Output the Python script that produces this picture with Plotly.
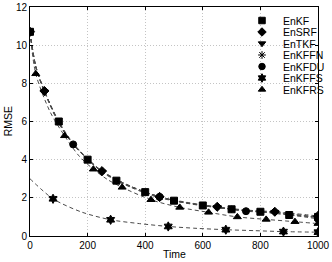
import plotly.graph_objects as go

# ---------------- data ----------------
names = ["EnKF", "EnSRF", "EnTKF", "EnKFFN", "EnKFDU", "EnKFFS", "EnKFRS"]
symbols = ["square", "diamond", "triangle-down", "asterisk-open", "circle", "hexagram", "triangle-up"]

enkf_t = [0, 20, 50, 100, 150, 200, 250, 300, 400, 500, 600, 700, 800, 900, 1000]
enkf_v = [10.7, 8.9, 7.6, 6.0, 4.85, 4.0, 3.4, 2.9, 2.3, 1.85, 1.6, 1.4, 1.27, 1.1, 1.0]
enkf_mk = [0, 100, 200, 300, 400, 500, 600, 700, 800, 900, 1000]

ensrf_t = [0, 20, 50, 100, 150, 250, 350, 450, 550, 650, 750, 850, 1000]
ensrf_v = [10.7, 8.9, 7.6, 5.95, 4.85, 3.4, 2.6, 2.05, 1.75, 1.53, 1.36, 1.27, 1.05]
ensrf_mk = [0, 50, 250, 450, 650, 850, 1000]

entkf_t = [0, 20, 50, 100, 150, 250, 350, 450, 550, 650, 750, 850, 1000]
entkf_v = [10.7, 8.85, 7.55, 5.9, 4.8, 3.35, 2.55, 2.0, 1.72, 1.5, 1.33, 1.25, 0.95]
entkf_mk = [0, 50, 250, 450, 650, 850, 1000]

enkffn_t = [0, 20, 50, 100, 150, 250, 350, 450, 550, 700, 850, 1000]
enkffn_v = [10.7, 8.85, 7.6, 5.95, 4.8, 3.4, 2.6, 2.05, 1.7, 1.4, 1.22, 1.0]
enkffn_mk = [0, 450, 700, 1000]

enkfdu_t = [0, 20, 50, 100, 150, 250, 350, 450, 550, 650, 750, 850, 1000]
enkfdu_v = [10.7, 8.9, 7.6, 5.95, 4.8, 3.4, 2.6, 2.05, 1.72, 1.5, 1.3, 1.2, 0.9]
enkfdu_mk = [0, 150, 450, 750, 1000]

enkffs_t = [0, 80, 180, 280, 380, 480, 580, 680, 780, 880, 1000]
enkffs_v = [3.0, 1.95, 1.25, 0.85, 0.65, 0.5, 0.4, 0.33, 0.28, 0.23, 0.2]
enkffs_mk = [80, 280, 480, 680, 880, 1000]

enkfrs_t = [0, 20, 70, 120, 170, 220, 270, 320, 420, 520, 620, 720, 820, 920, 1000]
enkfrs_v = [10.7, 8.5, 6.5, 5.25, 4.2, 3.5, 2.95, 2.55, 1.9, 1.5, 1.24, 1.0, 0.87, 0.75, 0.65]
enkfrs_mk = [20, 120, 220, 320, 420, 520, 620, 720, 820, 920, 1000]

series = [
    (enkf_t, enkf_v, enkf_mk),
    (ensrf_t, ensrf_v, ensrf_mk),
    (entkf_t, entkf_v, entkf_mk),
    (enkffn_t, enkffn_v, enkffn_mk),
    (enkfdu_t, enkfdu_v, enkfdu_mk),
    (enkffs_t, enkffs_v, enkffs_mk),
    (enkfrs_t, enkfrs_v, enkfrs_mk),
]

x_ticks = [0, 200, 400, 600, 800, 1000]
y_ticks = [0, 2, 4, 6, 8, 10, 12]

FONT = "Liberation Sans, Arial, Helvetica, sans-serif"

fig = go.Figure()

# dashed curves
for (t, v, mk) in series:
    fig.add_trace(go.Scatter(x=t, y=v, mode="lines", showlegend=False, hoverinfo="skip",
                             line=dict(color="#4a4a4a", width=1, dash="4px,3px", shape="spline", smoothing=0.8)))

# markers
for name, sym, (t, v, mk) in zip(names, symbols, series):
    mx = [tt for tt in t if tt in mk]
    my = [vv for tt, vv in zip(t, v) if tt in mk]
    fig.add_trace(go.Scatter(x=mx, y=my, mode="markers", name=name, showlegend=False,
                             marker=dict(symbol=sym, size=7 if sym != "asterisk-open" else 6,
                                         color="black",
                                         line=dict(color="black", width=1))))

# hand-made compact legend (pixel-coordinate overlay axes)
leg_x_marker = 262
leg_x_text = 281
leg_y0 = 20.5
leg_step = 11.5
leg_y = [leg_y0 + i * leg_step for i in range(len(names))]
fig.add_trace(go.Scatter(x=[leg_x_marker] * len(names), y=leg_y, mode="markers",
                         xaxis="x2", yaxis="y2", showlegend=False, hoverinfo="skip",
                         marker=dict(symbol=symbols, size=6.5, color="black",
                                     line=dict(color="black", width=1))))
for name, yy in zip(names, leg_y):
    fig.add_annotation(x=leg_x_text, y=yy, xref="x2", yref="y2", text=name, showarrow=False,
                       xanchor="left", yanchor="middle", font=dict(family=FONT, size=10.5, color="black"))

# axis titles (paper coordinates)
fig.add_annotation(x=0.5, y=-0.079, xref="paper", yref="paper", text="Time", showarrow=False,
                   xanchor="center", yanchor="middle", font=dict(family=FONT, size=10.5, color="black"))
fig.add_annotation(x=-0.077, y=0.5, xref="paper", yref="paper", text="RMSE", showarrow=False,
                   textangle=-90, xanchor="center", yanchor="middle",
                   font=dict(family=FONT, size=10.5, color="black"))

axis_common = dict(showgrid=True, gridcolor="#c4c4c4", griddash="1px,2px", gridwidth=1,
                   showline=True, linecolor="black", linewidth=1, mirror="allticks",
                   ticks="inside", ticklen=3, tickcolor="black", zeroline=False, automargin=False,
                   tickfont=dict(family=FONT, size=10, color="black"))

fig.update_layout(
    width=332, height=262,
    margin=dict(l=30, r=14, t=7, b=26, autoexpand=False),
    paper_bgcolor="white", plot_bgcolor="white",
    showlegend=False,
    xaxis=dict(range=[0, 1000], tickvals=x_ticks, **axis_common),
    yaxis=dict(range=[0, 12], tickvals=y_ticks, **axis_common),
    xaxis2=dict(overlaying="x", range=[30, 318], visible=False, anchor="y2", automargin=False),
    yaxis2=dict(overlaying="y", range=[236, 7], visible=False, anchor="x2", automargin=False),
)

fig.write_html("out.html", config={"displayModeBar": False},
               post_script="document.body.style.margin='0';")
